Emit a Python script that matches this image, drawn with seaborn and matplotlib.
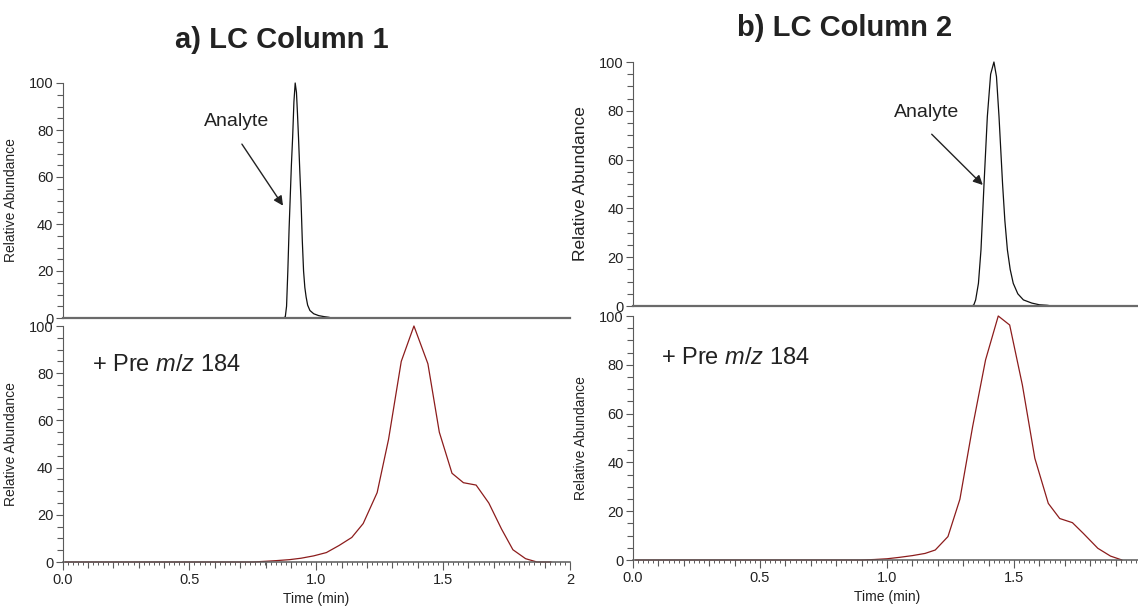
import matplotlib
matplotlib.use("Agg")
import matplotlib.pyplot as plt
import seaborn as sns
import pandas as pd
from matplotlib.ticker import MultipleLocator, FixedLocator, FixedFormatter

# ---- LC column 1 -------------------------------------------------------
col1_analyte_time = [0.00, 0.870, 0.878, 0.883, 0.888, 0.893, 0.897, 0.902, 0.907,
                     0.912, 0.917, 0.922, 0.926, 0.930, 0.935, 0.940, 0.945, 0.950,
                     0.955, 0.960, 0.966, 0.975, 0.990, 1.010, 1.030, 1.050, 1.060, 2.00]
col1_analyte_abund = [0, 0, 0.5, 5, 20, 38, 50, 65, 77,
                      92, 100, 96, 87, 77, 63, 50, 33, 20,
                      13, 9, 5.5, 3.2, 1.8, 1.0, 0.6, 0.3, 0, 0]

col1_pre184_time = [0.01, 0.75, 0.80, 0.845, 0.895, 0.94, 0.99, 1.04, 1.09, 1.14,
                    1.185, 1.24, 1.285, 1.335, 1.385, 1.44, 1.485, 1.535, 1.58,
                    1.63, 1.68, 1.73, 1.775, 1.825, 1.87, 1.925]
col1_pre184_abund = [0, 0, 0.3, 0.6, 1.0, 1.6, 2.6, 4.0, 7.0, 10.4,
                     16.3, 29.4, 52, 85, 100, 84, 55, 37.6, 33.6,
                     32.6, 25, 14, 5.2, 1.4, 0, 0]

# ---- LC column 2 -------------------------------------------------------
col2_analyte_time = [0.00, 1.335, 1.342, 1.349, 1.360, 1.370, 1.382, 1.395, 1.408,
                     1.421, 1.431, 1.441, 1.455, 1.464, 1.474, 1.485, 1.497, 1.515,
                     1.537, 1.570, 1.600, 1.630, 1.650, 2.00]
col2_analyte_abund = [0, 0, 0.5, 2.5, 9.3, 23, 50, 77.6, 95,
                      100, 94, 77.6, 50, 35, 23, 15, 9.3, 5,
                      2.5, 1.2, 0.5, 0.3, 0, 0]

col2_pre184_time = [0.01, 0.90, 0.95, 1.00, 1.05, 1.10, 1.15, 1.19, 1.24, 1.287,
                    1.337, 1.388, 1.438, 1.483, 1.533, 1.582, 1.635, 1.68, 1.73,
                    1.773, 1.83, 1.88, 1.925]
col2_pre184_abund = [0, 0, 0.2, 0.5, 1.1, 1.8, 2.7, 4.1, 9.6, 24.9,
                     54.6, 82, 100, 96.3, 71.7, 41.7, 23.2, 17, 15.3,
                     10.9, 4.8, 1.6, 0]

panel_titles = ["a) LC Column 1", "b) LC Column 2"]
x_tick_values = [0.0, 0.5, 1.0, 1.5, 2.0]
x_tick_labels = ["0.0", "0.5", "1.0", "1.5", "2"]
y_tick_values = [0, 20, 40, 60, 80, 100]
peak_label = "Analyte"
trace_label = "+ Pre $\\mathit{m/z}$ 184"
y_label = "Relative Abundance"
x_label = "Time (min)"

# annotation anchor points (data units) for each column
analyte_text_pos = [(0.687, 83.5), (1.156, 79.2)]
analyte_arrow_tail = [(0.707, 74.0), (1.176, 70.4)]
analyte_arrow_tip = [(0.869, 47.8), (1.377, 49.6)]
trace_text_pos = [(0.115, 83.5), (0.109, 82.7)]

sns.set_style("ticks")
plt.rcParams["font.family"] = ["Liberation Sans", "DejaVu Sans"]
plt.rcParams["mathtext.fontset"] = "custom"
plt.rcParams["mathtext.rm"] = "Liberation Sans"
plt.rcParams["mathtext.it"] = "Liberation Sans:italic"

SPINE = "#5a5a5a"
TXT = "#222222"
BLACK_TRACE = "#111111"
RED_TRACE = "#8c1c1c"

W, H = 1138, 606
fig = plt.figure(figsize=(W / 100, H / 100), dpi=100)


def px_axes(x0, x1, ytop, ybot):
    return fig.add_axes([x0 / W, 1 - ybot / H, (x1 - x0) / W, (ybot - ytop) / H])


layout = [
    # top axes (x0, x1, ytop, ybot), bottom axes
    ((62.5, 570, 83, 318), (62.5, 570, 326, 562)),
    ((633, 1141, 62, 306), (633, 1141, 316, 560)),
]
title_pos = [(282, 40), (845, 28)]
ylabel_size = [(10, 10), (12.5, 10)]

datasets = [
    (col1_analyte_time, col1_analyte_abund, col1_pre184_time, col1_pre184_abund),
    (col2_analyte_time, col2_analyte_abund, col2_pre184_time, col2_pre184_abund),
]


def style_y(ax, lab_size):
    ax.set_ylim(0, 100)
    ax.set_xlim(0, 2)
    ax.yaxis.set_major_locator(FixedLocator(y_tick_values))
    ax.yaxis.set_minor_locator(MultipleLocator(5))
    ax.tick_params(axis="y", which="major", length=5, width=0.8, color=SPINE,
                   labelsize=10.5, labelcolor=TXT, pad=1.5, direction="out")
    ax.tick_params(axis="y", which="minor", length=4, width=0.8, color=SPINE,
                   direction="out")
    for s in ("top", "right"):
        ax.spines[s].set_visible(False)
    ax.spines["left"].set_color(SPINE)
    ax.spines["left"].set_linewidth(0.8)
    ax.set_ylabel(y_label, fontsize=lab_size, color=TXT)
    ax.yaxis.set_label_coords(-0.088, 0.5)
    ax.patch.set_alpha(0)


for i, ((top_box, bot_box), (at, aa, pt, pa)) in enumerate(zip(layout, datasets)):
    ax_top = px_axes(*top_box)
    ax_bot = px_axes(*bot_box)

    # analyte chromatogram
    sns.lineplot(data=pd.DataFrame({"t": at, "a": aa}), x="t", y="a", ax=ax_top,
                 color=BLACK_TRACE, linewidth=0.9, clip_on=False)
    style_y(ax_top, ylabel_size[i][0])
    ax_top.set_xlabel("")
    ax_top.tick_params(axis="x", which="both", bottom=False, labelbottom=False)
    ax_top.spines["bottom"].set_color("#6a6a6a")
    ax_top.spines["bottom"].set_linewidth(1.6)

    ax_top.annotate("", xy=analyte_arrow_tip[i], xytext=analyte_arrow_tail[i],
                    textcoords="data",
                    arrowprops=dict(arrowstyle="-|>", color=TXT, lw=1.0,
                                    mutation_scale=14, shrinkA=0, shrinkB=0))
    ax_top.text(*analyte_text_pos[i], peak_label, fontsize=14, color=TXT,
                ha="center", va="center")

    # precursor-ion scan trace
    sns.lineplot(data=pd.DataFrame({"t": pt, "a": pa}), x="t", y="a", ax=ax_bot,
                 color=RED_TRACE, linewidth=0.9, clip_on=False)
    style_y(ax_bot, ylabel_size[i][1])
    ax_bot.spines["bottom"].set_color(SPINE)
    ax_bot.spines["bottom"].set_linewidth(1.1)
    ax_bot.xaxis.set_major_locator(FixedLocator(x_tick_values))
    ax_bot.xaxis.set_major_formatter(FixedFormatter(x_tick_labels))
    ax_bot.xaxis.set_minor_locator(MultipleLocator(0.1))
    ax_bot.tick_params(axis="x", which="major", length=6, width=0.8, color=SPINE,
                       labelsize=10.5, labelcolor=TXT, pad=2)
    ax_bot.tick_params(axis="x", which="minor", length=4, width=0.8, color=SPINE)
    fine = ax_bot.secondary_xaxis(0.0)
    fine.spines["bottom"].set_visible(False)
    fine.xaxis.set_major_locator(MultipleLocator(0.02))
    fine.tick_params(axis="x", which="major", length=2.5, width=0.7, color=SPINE,
                     labelbottom=False)
    ax_bot.set_xlabel(x_label, fontsize=10, color=TXT)
    ax_bot.xaxis.set_label_coords(0.5, -0.125)
    ax_bot.text(*trace_text_pos[i], trace_label, fontsize=17, color=TXT,
                ha="left", va="center")

    fig.text(title_pos[i][0] / W, 1 - title_pos[i][1] / H, panel_titles[i],
             fontsize=21, fontweight="bold", color=TXT, ha="center", va="center")

fig.savefig("out.png", dpi=100)
